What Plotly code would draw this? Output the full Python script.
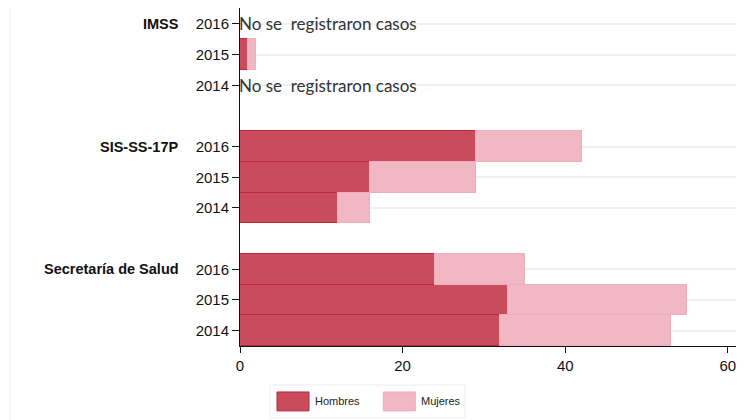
import plotly.graph_objects as go

# rows from bottom to top, with empty slots between the groups
row_pos = [0, 1, 2, 4, 5, 6, 8, 9, 10]
years = ["2014", "2015", "2016", "2014", "2015", "2016", "2014", "2015", "2016"]
groups = ["Secretaría de Salud", "SIS-SS-17P", "IMSS"]
group_pos = [2, 6, 10]

hombres = [32, 33, 24, 12, 16, 29, 0, 1, 0]
mujeres = [21, 22, 11, 4, 13, 13, 0, 1, 0]

no_cases_pos = [8, 10]
no_cases_text = "No se\u00a0 registraron casos"

red = "#c94c5c"
red_line = "#b8283f"
pink = "#f1b7c2"
pink_line = "#eeadba"

fig = go.Figure()
fig.add_trace(go.Bar(
    y=row_pos, x=hombres, orientation="h", name="Hombres",
    marker=dict(color=red, line=dict(color=red_line, width=1)),
    showlegend=False,
))
fig.add_trace(go.Bar(
    y=row_pos, x=mujeres, orientation="h", name="Mujeres",
    marker=dict(color=pink, line=dict(color=pink_line, width=1)),
    showlegend=False,
))

for p in no_cases_pos:
    fig.add_annotation(x=0, y=p, xref="x", yref="y", text=no_cases_text,
                       showarrow=False, xanchor="left", yanchor="middle", xshift=-3,
                       font=dict(family="Lato", size=17, color="#333333"))

for g, p in zip(groups, group_pos):
    fig.add_annotation(x=-0.119, y=p, xref="paper", yref="y", text="<b>%s</b>" % g,
                       showarrow=False, xanchor="right", yanchor="middle",
                       font=dict(family="Liberation Sans, Arial", size=14.5, color="#111111"))

# legend drawn by hand to get the wide swatches
fig.add_shape(type="rect", xref="paper", yref="paper", x0=0.0605, x1=0.4536, y0=-0.213, y1=-0.1154,
              line=dict(color="#e8ecef", width=1), fillcolor="white")
for x0, col, lc, name in [(0.0746, red, red_line, "Hombres"), (0.289, pink, pink_line, "Mujeres")]:
    fig.add_shape(type="rect", xref="paper", yref="paper", x0=x0, x1=x0 + 0.0645, y0=-0.192, y1=-0.136,
                  fillcolor=col, line=dict(color=lc, width=1))
    fig.add_annotation(x=x0 + 0.072, y=-0.164, xref="paper", yref="paper", text=name,
                       showarrow=False, xanchor="left", yanchor="middle",
                       font=dict(family="Liberation Sans, Arial", size=11, color="#222222"))

# faint container edge on the left
fig.add_shape(type="line", xref="paper", yref="paper", x0=-0.4637, x1=-0.4637, y0=-0.22, y1=1.0,
              line=dict(color="#f0f0f0", width=1))

# the page body adds 8px margin, so the figure is 8px smaller than the window
fig.update_layout(
    barmode="stack",
    bargap=0,
    width=740, height=412,
    margin=dict(l=232, r=12, t=0, b=74),
    plot_bgcolor="white", paper_bgcolor="white",
    font=dict(family="Liberation Sans, Arial", size=15, color="#111111"),
    xaxis=dict(range=[0, 61], tickvals=[0, 20, 40, 60], showgrid=False, zeroline=False,
               showline=True, linecolor="#111111", linewidth=1,
               ticks="outside", ticklen=6, tickcolor="#111111"),
    yaxis=dict(range=[-0.5, 10.52], tickvals=row_pos, ticktext=years,
               showgrid=True, gridcolor="#edf1f5", gridwidth=2, zeroline=False,
               showline=True, linecolor="#111111", linewidth=1,
               ticks="outside", ticklen=7, tickcolor="#111111"),
)

fig.write_html("out.html")
